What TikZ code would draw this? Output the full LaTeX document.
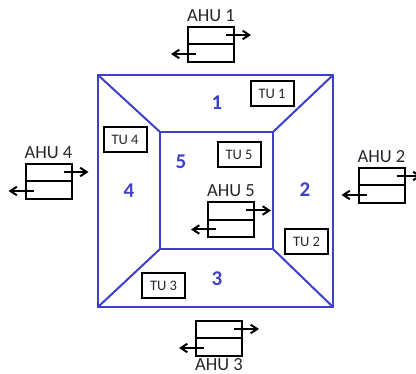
\documentclass[tikz,border=0pt]{standalone}
\usepackage{fontspec}
\setmainfont{Carlito}
\usepackage{tikz}
\usetikzlibrary{arrows.meta,positioning,calc}
\definecolor{zoneblue}{HTML}{3F3FC8}
\definecolor{ahutext}{HTML}{26262E}
\begin{document}
\begin{tikzpicture}[x=1pt,y=-1pt,
  wall/.style={zoneblue,line width=2pt,line join=miter},
  zone/.style={font=\fontsize{21}{21}\selectfont\bfseries,text=zoneblue,inner sep=0pt},
  tubox/.style={draw=black,line width=2pt,minimum width=43pt,minimum height=25pt,inner sep=0pt,font=\fontsize{14.5}{15}\selectfont,text=ahutext},
  ahubox/.style={draw=black,line width=2pt,minimum width=46pt,minimum height=35pt,inner sep=0pt},
  ahulabel/.style={font=\fontsize{18.5}{19}\selectfont,text=ahutext,inner sep=0pt},
  duct/.style={-{Straight Barb[length=2.3mm,width=3mm]},line width=2pt,black}]
  \useasboundingbox (0,0) rectangle (416,374);
  % outer walls and core
  \coordinate (oa) at (98,75);  \coordinate (ob) at (333,75);
  \coordinate (oc) at (333,307); \coordinate (od) at (98,307);
  \coordinate (ia) at (160,132); \coordinate (ib) at (273,132);
  \coordinate (ic) at (273,249); \coordinate (id) at (160,249);
  \draw[wall] (oa) -- (ob) -- (oc) -- (od) -- cycle;
  \draw[wall] (ia) -- (ib) -- (ic) -- (id) -- cycle;
  \foreach \p/\q in {oa/ia,ob/ib,oc/ic,od/id}
    \draw[wall] (\p) -- (\q);
  % zone numbers
  \foreach \x/\y/\n in {217/103/1,305/190/2,217/279/3,129/191/4,181/162/5}
    \node[zone] (zone\n) at (\x,\y) {\n};
  % terminal units
  \foreach \x/\y/\n in {272/93.5/1,306.5/242/2,163.5/286/3,125/140/4,239/154.5/5}
    \node[tubox] (tu\n) at (\x,\y) {TU \n};
  % air handling units
  \foreach \x/\y/\n/\side/\gap in {211/44.5/1/above/4.5pt,381.5/185.5/2/above/4.5pt,
                                   219/338.5/3/below/1pt,48.5/181.5/4/above/4.5pt,
                                   231/220/5/above/4.5pt}{
    \node[ahubox] (ahu\n) at (\x,\y) {};
    \node[ahulabel,\side=\gap of ahu\n] (lab\n) {AHU \n};
    \draw[line width=2pt] (ahu\n.west) -- (ahu\n.east);
    \coordinate (sup\n) at ($(ahu\n.north east)+(-9,9)$);
    \coordinate (ret\n) at ($(ahu\n.south west)+(9,-9)$);
    \draw[duct] (sup\n) -- ++(25,0);
    \draw[duct] (ret\n) -- ++(-25,0);}
\end{tikzpicture}
\end{document}
